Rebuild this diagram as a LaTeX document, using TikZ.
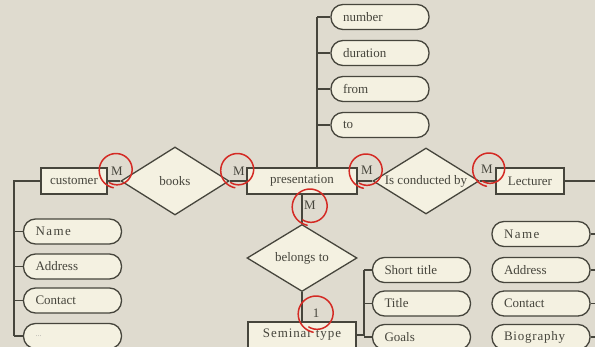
\documentclass[tikz,border=0pt]{standalone}
\usepackage{fontspec}
\setmainfont{Liberation Serif}
\usetikzlibrary{shapes.geometric}
\definecolor{bgc}{HTML}{DFDBCF}
\definecolor{fillc}{HTML}{F4F1E1}
\definecolor{inkc}{HTML}{46453C}
\definecolor{redc}{HTML}{D42A24}

% hand-drawn ring: centre x, centre y, radius; the stroke overshoots and curls inward
\newcommand\redring[3]{%
  \draw[ring] plot[domain=100:480, samples=90, smooth, variable=\t]
    ({#1+(#3+1-3.5*(\t-100)/380)*cos(\t)}, {#2+(#3+1-3.5*(\t-100)/380)*sin(\t)});}

\begin{document}
\begin{tikzpicture}[x=1pt,y=-1pt,
  every node/.style={font=\fontsize{13}{15}\selectfont, text=inkc},
  entity/.style={draw=inkc, line width=1.3pt, fill=fillc, minimum height=26, inner sep=0},
  attr/.style={draw=inkc, line width=1.3pt, fill=fillc, rounded corners=12pt,
    minimum height=25, minimum width=98, inner xsep=12, inner ysep=0,
    text width=74, align=left},
  rel/.style={draw=inkc, line width=1.3pt, fill=fillc, diamond, aspect=1.6, inner sep=0},
  link/.style={draw=inkc, line width=1.3pt},
  card/.style={inner sep=1},
  ring/.style={draw=redc, line width=1.5pt, line cap=round},
  spaced/.style={font=\fontsize{13}{15}\selectfont\addfontfeature{LetterSpace=#1}},
]
\fill[bgc] (0,0) rectangle (595,347);
\useasboundingbox (0,0) rectangle (595,347);
\clip (0,0) rectangle (595,347);

% spine end points
\coordinate (lspine) at (14,336);
\coordinate (tspine) at (317,17);
\coordinate (sspine) at (364,270);
\coordinate (rspine) at (602,337);

% entities
\node[entity, minimum width=66] (customer) at (74,181) {customer};
\node[entity, minimum width=110] (pres) at (302,181) {presentation};
\node[entity, minimum width=68] (lect) at (530,181) {Lecturer};
\node[entity, minimum width=108, spaced=7] (seminar) at (302,335) {Seminar type};

% relationships
\node[rel, minimum width=108, minimum height=68] (books) at (175,181) {books};
\node[rel, minimum width=106, minimum height=66] (cond) at (426,181) {Is conducted by};
\node[rel, minimum width=110, minimum height=67] (belongs) at (302,258) {belongs to};

% attributes of customer
\node[attr, minimum width=97, spaced=11] (cname) at (72.5,231.5) {Name};
\node[attr, minimum width=97] (caddr) at (72.5,266.5) {Address};
\node[attr, minimum width=97] (ccont) at (72.5,300.5) {Contact};
\node[attr, minimum width=97, font=\fontsize{8}{10}\selectfont, text=inkc!45] (cmore) at (72.5,336) {...};

% attributes of presentation
\node[attr] (pnum) at (380,17) {number};
\node[attr] (pdur) at (380,53) {duration};
\node[attr] (pfrom) at (380,89) {from};
\node[attr] (pto) at (380,125) {to};

% attributes of seminar type
\node[attr, minimum width=97] (sshort) at (421.5,270) {Short title};
\node[attr, minimum width=97] (stitle) at (421.5,303.5) {Title};
\node[attr, minimum width=97] (sgoals) at (421.5,337) {Goals};

% attributes of lecturer
\node[attr, spaced=11] (lname) at (541,234) {Name};
\node[attr] (laddr) at (541,270) {Address};
\node[attr] (lcont) at (541,303.5) {Contact};
\node[attr, spaced=6] (lbio) at (541,337) {Biography};

% relationship links
\draw[link] (customer.east) -- (books.west);
\draw[link] (books.east) -- (pres.west);
\draw[link] (pres.east) -- (cond.west);
\draw[link] (cond.east) -- (lect.west);
\draw[link] (pres.south) -- (belongs.north);
\draw[link] (belongs.south) -- (seminar.north);

% attribute spines
\draw[link] (customer.west) -| (lspine);
\foreach \a in {cname,caddr,ccont,cmore} \draw[link] (\a.west -| lspine) -- (\a.west);
\draw[link] (pres.north -| tspine) -- (tspine);
\foreach \a in {pnum,pdur,pfrom,pto} \draw[link] (\a.west -| tspine) -- (\a.west);
\draw[link] (seminar.east) -| (sspine);
\foreach \a in {sshort,stitle,sgoals} \draw[link] (\a.west -| sspine) -- (\a.west);
\draw[link] (lect.east) -| (rspine);
\foreach \a in {lname,laddr,lcont,lbio} \draw[link] (\a.east) -- (\a.east -| rspine);

% cardinalities
\node[card] (m1) at (117,171) {M};
\node[card] (m2) at (239,171) {M};
\node[card] (m3) at (367,170) {M};
\node[card] (m4) at (487,169) {M};
\node[card] (m5) at (310,205) {M};
\node[card] (one) at (316,313) {1};

% red marks around the cardinalities
\redring{116.5}{170}{17}
\redring{238}{170}{17}
\redring{366.5}{170.5}{17}
\redring{489.5}{169}{16.5}
\redring{310.5}{206.5}{18}
\redring{316.5}{313.5}{18}
\end{tikzpicture}
\end{document}
